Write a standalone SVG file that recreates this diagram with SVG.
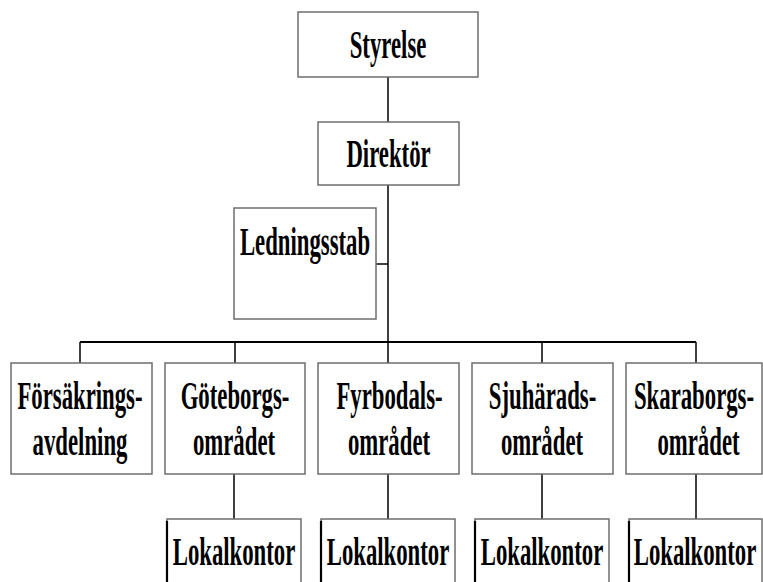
<svg xmlns="http://www.w3.org/2000/svg" width="763" height="582" viewBox="0 0 763 582">
<style>
.box{fill:#fff;stroke:#6e6e6e;stroke-width:1.5}
.lk{fill:#fff;stroke:#6e6e6e;stroke-width:1.5}
.edge{stroke:#000;stroke-width:2.2}
.t{font-family:"Liberation Serif","Times New Roman",serif;font-weight:bold;font-size:41px;fill:#000;text-anchor:middle}
#connectors line{stroke:#000;stroke-width:1.5}
</style>
<rect width="763" height="582" fill="#fff"/>
<g id="connectors">
<line x1="388" y1="77" x2="388" y2="122"/>
<line x1="388" y1="185" x2="388" y2="363"/>
<line x1="376" y1="264" x2="388" y2="264"/>
<line x1="80" y1="342" x2="696" y2="342" style="stroke-width:2"/>
<line x1="80" y1="342" x2="80" y2="363"/>
<line x1="235" y1="342" x2="235" y2="363"/>
<line x1="542" y1="342" x2="542" y2="363"/>
<line x1="696" y1="342" x2="696" y2="363"/>
<line x1="234" y1="474" x2="234" y2="519"/>
<line x1="388" y1="474" x2="388" y2="519"/>
<line x1="542" y1="474" x2="542" y2="519"/>
<line x1="696" y1="474" x2="696" y2="519"/>
</g>
<g id="styrelse">
<rect class="box" x="298" y="12" width="180" height="65"/>
<text class="t" transform="matrix(0.555,0,0,1,388,58)">Styrelse</text>
</g>
<g id="direktor">
<rect class="box" x="318" y="122" width="141" height="63"/>
<text class="t" transform="matrix(0.555,0,0,1,388.5,167)">Direktör</text>
</g>
<g id="ledningsstab">
<rect class="box" x="234" y="208" width="142" height="111"/>
<text class="t" transform="matrix(0.555,0,0,1,305,255)">Ledningsstab</text>
</g>
<g id="forsakring">
<rect class="box" x="11" y="363" width="141" height="111"/>
<text class="t" transform="matrix(0.555,0,0,1,80,409)">Försäkrings-</text>
<text class="t" transform="matrix(0.555,0,0,1,80,455)">avdelning</text>
</g>
<g id="goteborg">
<rect class="box" x="165" y="363" width="140" height="111"/>
<text class="t" transform="matrix(0.555,0,0,1,235,409)">Göteborgs-</text>
<text class="t" transform="matrix(0.555,0,0,1,234,455)">området</text>
</g>
<g id="fyrbodal">
<rect class="box" x="318" y="363" width="141" height="111"/>
<text class="t" transform="matrix(0.555,0,0,1,389.5,409)">Fyrbodals-</text>
<text class="t" transform="matrix(0.555,0,0,1,389,455)">området</text>
</g>
<g id="sjuhrad">
<rect class="box" x="472" y="363" width="141" height="111"/>
<text class="t" transform="matrix(0.555,0,0,1,542.5,409)">Sjuhärads-</text>
<text class="t" transform="matrix(0.555,0,0,1,542,455)">området</text>
</g>
<g id="skaraborg">
<rect class="box" x="626" y="363" width="136" height="111"/>
<text class="t" transform="matrix(0.555,0,0,1,694,409)">Skaraborgs-</text>
<text class="t" transform="matrix(0.555,0,0,1,698.5,455)">området</text>
</g>
<g id="lokal1">
<rect class="lk" x="167" y="519" width="134" height="80"/>
<line class="edge" x1="167" y1="521" x2="167" y2="582"/>
<text class="t" transform="matrix(0.555,0,0,1,234,565)">Lokalkontor</text>
</g>
<g id="lokal2">
<rect class="lk" x="321" y="519" width="134" height="80"/>
<line class="edge" x1="321" y1="521" x2="321" y2="582"/>
<text class="t" transform="matrix(0.555,0,0,1,388,565)">Lokalkontor</text>
</g>
<g id="lokal3">
<rect class="lk" x="475" y="519" width="134" height="80"/>
<line class="edge" x1="475" y1="521" x2="475" y2="582"/>
<text class="t" transform="matrix(0.555,0,0,1,542,565)">Lokalkontor</text>
</g>
<g id="lokal4">
<rect class="lk" x="629" y="519" width="133" height="80"/>
<line class="edge" x1="629" y1="521" x2="629" y2="582"/>
<text class="t" transform="matrix(0.555,0,0,1,695,565)">Lokalkontor</text>
</g>
</svg>
